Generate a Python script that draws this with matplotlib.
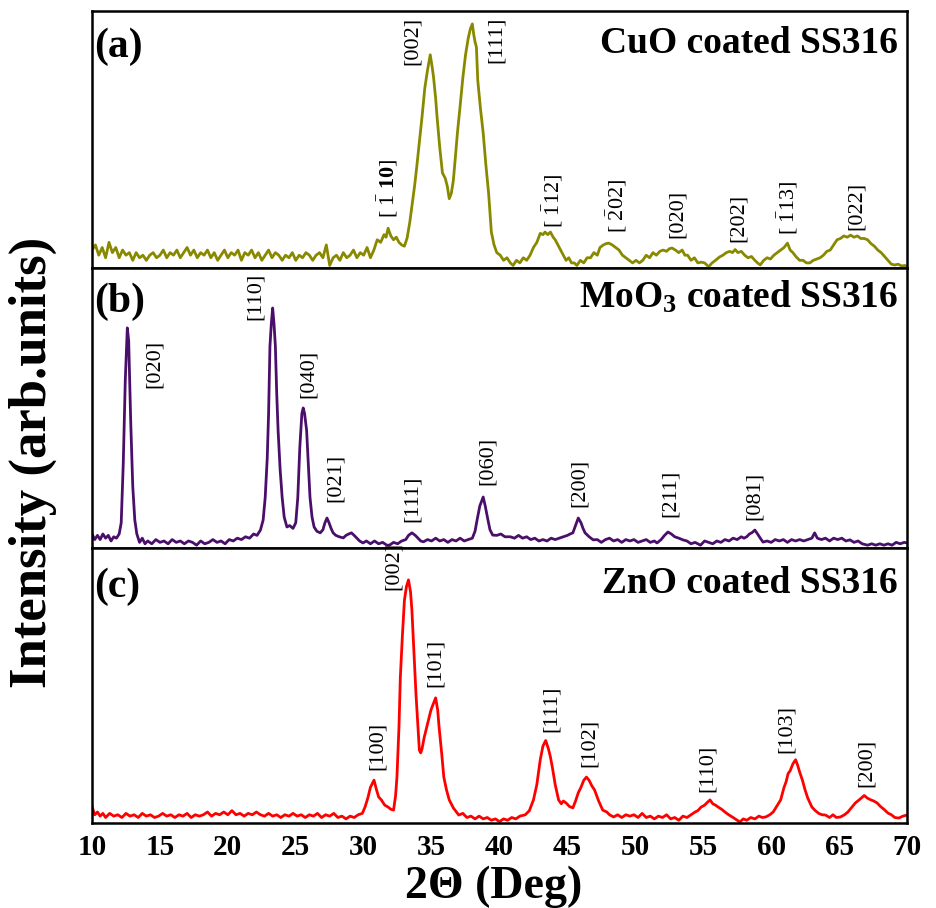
import matplotlib.pyplot as plt

plt.rcParams['font.family'] = ['Liberation Serif', 'DejaVu Serif']
plt.rcParams['mathtext.fontset'] = 'custom'
plt.rcParams['mathtext.rm'] = 'Liberation Serif'
plt.rcParams['mathtext.it'] = 'Liberation Serif:italic'
plt.rcParams['mathtext.bf'] = 'Liberation Serif:bold'

# ---- (a) CuO coated SS316 (arb. units 0-100) ----
cuo_2theta = [
    10.0, 10.25, 10.5, 10.75, 11.0, 11.25, 11.5, 11.75, 12.0, 12.25, 12.5, 12.75,
    13.0, 13.25, 13.5, 13.75, 14.0, 14.25, 14.5, 14.75, 15.0, 15.25, 15.5, 15.75,
    16.0, 16.25, 16.5, 16.75, 17.0, 17.25, 17.5, 17.75, 18.0, 18.25, 18.5, 18.75,
    19.0, 19.25, 19.5, 19.75, 20.0, 20.25, 20.5, 20.75, 21.0, 21.25, 21.5, 21.75,
    22.0, 22.25, 22.5, 22.75, 23.0, 23.25, 23.5, 23.75, 24.0, 24.25, 24.5, 24.75,
    25.0, 25.25, 25.5, 25.75, 26.0, 26.25, 26.5, 26.75, 27.0, 27.25, 27.5, 27.75,
    28.0, 28.25, 28.5, 28.75, 29.0, 29.25, 29.5, 29.75, 30.0, 30.25, 30.5, 30.75,
    31.0, 31.25, 31.5, 31.65, 31.8, 32.0, 32.2, 32.4, 32.6, 32.8, 33.0, 33.2,
    33.4, 33.55, 33.75, 33.9, 34.1, 34.3, 34.5, 34.7, 34.9, 35.05, 35.15, 35.3,
    35.4, 35.6, 35.8, 36.0, 36.15, 36.3, 36.45, 36.6, 36.75, 36.9, 37.1, 37.3,
    37.5, 37.7, 37.85, 38.0, 38.1, 38.2, 38.3, 38.4, 38.6, 38.8, 39.0, 39.2,
    39.4, 39.6, 39.8, 40.05, 40.3, 40.55, 40.8, 41.0, 41.25, 41.5, 41.75, 42.0,
    42.25, 42.5, 42.75, 43.0, 43.2, 43.35, 43.55, 43.75, 43.95, 44.1, 44.3, 44.5,
    44.7, 44.9, 45.1, 45.3, 45.5, 45.7, 45.95, 46.2, 46.45, 46.7, 46.95, 47.2,
    47.4, 47.65, 47.85, 48.05, 48.3, 48.55, 48.8, 49.05, 49.3, 49.55, 49.8, 50.05,
    50.3, 50.55, 50.8, 51.05, 51.3, 51.55, 51.8, 52.05, 52.3, 52.5, 52.7, 52.95,
    53.2, 53.45, 53.65, 53.85, 54.1, 54.35, 54.6, 54.85, 55.1, 55.4, 55.65, 55.9,
    56.2, 56.45, 56.7, 56.95, 57.15, 57.35, 57.55, 57.8, 58.05, 58.3, 58.55, 58.8,
    59.0, 59.2, 59.45, 59.7, 59.95, 60.2, 60.45, 60.7, 60.95, 61.2, 61.4, 61.6,
    61.85, 62.1, 62.35, 62.6, 62.85, 63.1, 63.35, 63.6, 63.85, 64.1, 64.35, 64.6,
    64.85, 65.1, 65.35, 65.6, 65.85, 66.1, 66.35, 66.6, 66.85, 67.1, 67.35, 67.6,
    67.85, 68.1, 68.35, 68.6, 68.85, 69.1, 69.35, 69.6, 69.85, 70.0,
]
cuo_intensity = [
    7, 9, 5, 8, 4, 10, 6, 8, 4, 7, 5, 6,
    3, 6, 4, 5, 3, 5, 6, 4, 5, 7, 4, 6,
    5, 7, 4, 6, 8, 5, 7, 4, 6, 5, 7, 4,
    6, 3, 5, 7, 4, 6, 5, 7, 3, 6, 5, 7,
    4, 6, 3, 5, 7, 4, 6, 5, 3, 5, 4, 6,
    3, 5, 4, 6, 5, 3, 5, 6, 4, 9, 1, 4,
    5, 3, 6, 4, 5, 7, 4, 6, 5, 8, 4, 7,
    11, 10, 13, 12, 15.5, 12.5, 11, 12, 10, 9, 8.5, 11.7,
    18, 24, 32, 39, 49, 59, 70, 77, 83, 78, 74, 66,
    59, 47, 37, 35, 32, 27, 29, 34, 43, 52.5, 63, 74,
    83, 89.5, 93, 95, 91, 88, 86, 73, 62, 52.5, 40, 29,
    14, 9, 6, 5, 3, 4, 2, 1, 3, 2, 4, 3,
    5, 8, 10, 13.5, 13, 14, 13, 14, 12, 11, 9, 7,
    5, 3, 4, 2, 2, 1, 3, 2, 4, 4, 6, 5,
    8, 9, 9.5, 9.7, 9, 8, 7, 5, 4, 3, 2, 3,
    2, 3, 5, 4, 6, 5, 6.5, 7, 6.5, 7.5, 7.8, 7,
    6, 7, 5, 5, 3, 4, 2, 2.3, 2, 0.5, 2, 3,
    4.3, 5, 6, 6.5, 6, 7.2, 6, 6.5, 5, 4, 4.5, 3,
    2, 1.2, 3, 4, 3.5, 5, 6, 7, 8, 9.7, 7, 6,
    4.3, 3, 3, 2, 2, 3, 3.5, 4, 5, 6.5, 7, 9,
    11, 11.5, 12.5, 12, 12.8, 12, 12.5, 11.5, 11.5, 11, 9.5, 8.5,
    7, 6, 4.5, 3, 1.5, 1.2, 1.5, 0.8, 1, 0.5,
]
cuo_hkl = [r'[ $\bar{1}$ $\mathbf{10}$]', '[002]', '[111]', r'[ $\bar{1}$12]',
           r'[ $\bar{2}$02]', '[020]', '[202]', r'[ $\bar{1}$13]', '[022]']
cuo_hkl_2theta = [31.8, 33.6, 39.8, 43.9, 48.65, 53.1, 57.6, 61.25, 66.3]
cuo_hkl_height = [19.5, 79, 79.8, 15.6, 13.6, 11.7, 10, 12.8, 14.8]

# ---- (b) MoO3 coated SS316 ----
moo3_2theta = [
    10.0, 10.2, 10.4, 10.6, 10.8, 11.0, 11.2, 11.4, 11.6, 11.8, 12.0, 12.15,
    12.3, 12.45, 12.6, 12.7, 12.85, 13.0, 13.15, 13.3, 13.5, 13.7, 13.9, 14.1,
    14.4, 14.7, 15.0, 15.3, 15.6, 15.9, 16.2, 16.5, 16.8, 17.1, 17.4, 17.7,
    18.0, 18.3, 18.6, 18.9, 19.2, 19.5, 19.8, 20.1, 20.4, 20.7, 21.0, 21.3,
    21.6, 21.9, 22.15, 22.4, 22.6, 22.75, 22.9, 23.0, 23.1, 23.2, 23.3, 23.4,
    23.5, 23.6, 23.7, 23.85, 24.0, 24.15, 24.35, 24.55, 24.8, 25.0, 25.15, 25.3,
    25.45, 25.55, 25.65, 25.8, 25.95, 26.05, 26.2, 26.35, 26.55, 26.8, 27.0, 27.15,
    27.3, 27.45, 27.6, 27.75, 27.95, 28.2, 28.5, 28.7, 28.9, 29.1, 29.3, 29.5,
    29.7, 29.95, 30.2, 30.5, 30.8, 31.1, 31.4, 31.7, 31.9, 32.2, 32.5, 32.8,
    33.1, 33.3, 33.55, 33.8, 34.0, 34.2, 34.4, 34.7, 35.0, 35.3, 35.6, 35.9,
    36.2, 36.5, 36.8, 37.1, 37.4, 37.7, 38.0, 38.2, 38.35, 38.55, 38.8, 38.95,
    39.15, 39.3, 39.5, 39.8, 40.1, 40.4, 40.8, 41.1, 41.4, 41.7, 42.0, 42.3,
    42.6, 42.9, 43.2, 43.5, 43.8, 44.1, 44.4, 44.7, 45.0, 45.2, 45.4, 45.6,
    45.8, 46.0, 46.15, 46.3, 46.6, 46.9, 47.2, 47.5, 47.8, 48.1, 48.4, 48.7,
    49.0, 49.3, 49.6, 49.9, 50.2, 50.5, 50.8, 51.1, 51.4, 51.6, 51.9, 52.15,
    52.4, 52.65, 52.9, 53.2, 53.5, 53.8, 54.1, 54.4, 54.8, 55.1, 55.4, 55.7,
    56.0, 56.3, 56.6, 56.9, 57.2, 57.5, 57.8, 58.0, 58.2, 58.4, 58.6, 58.8,
    59.0, 59.2, 59.4, 59.7, 60.0, 60.3, 60.6, 60.9, 61.2, 61.5, 61.8, 62.1,
    62.4, 62.7, 63.0, 63.2, 63.4, 63.7, 64.0, 64.3, 64.6, 64.9, 65.2, 65.5,
    65.8, 66.1, 66.4, 66.7, 67.1, 67.4, 67.7, 68.0, 68.3, 68.6, 68.9, 69.2,
    69.5, 69.8, 70.0,
]
moo3_intensity = [
    5, 3, 4.5, 3, 5, 3.5, 4.5, 2.5, 4, 3.5, 5, 9,
    30, 60, 78.6, 74, 45, 22, 10, 5, 2, 3.5, 1.5, 2.5,
    1.5, 3, 2, 2.5, 1.5, 3, 2, 2.5, 1.5, 2.5, 2, 1,
    2.5, 1.5, 2, 3, 2, 2.5, 1.5, 3, 2.5, 3.5, 3, 4,
    3.5, 5, 4.5, 6.4, 10, 18, 32, 48, 72, 80, 85.7, 80,
    72, 55, 42, 28, 18, 11, 7.5, 8, 7, 9, 18, 36,
    48, 50, 48, 42, 28, 18, 11, 7.5, 6, 5.4, 6.5, 9,
    10.7, 9, 7, 5.4, 4.5, 4, 3.6, 4.5, 5, 5.4, 4.5, 3.5,
    2.5, 1.8, 2.5, 1.5, 2.5, 1.5, 2, 1, 1, 2, 1.5, 2.5,
    3, 4.5, 5.4, 4.5, 3.5, 2.5, 2.2, 3, 2.5, 3.5, 2.5, 3,
    2, 3, 2.5, 3.5, 2.5, 3, 3.5, 6, 10, 15, 18.2, 15,
    10, 6.5, 4.6, 4.5, 5, 4, 4, 3.5, 4.5, 3.5, 4, 3,
    3.5, 2.5, 3, 2.5, 3.5, 3, 3.5, 4, 4.5, 5, 5.4, 8,
    10.7, 9, 7, 5.4, 4, 2.9, 3, 2, 3, 3.5, 2.5, 3,
    2, 3, 2.5, 3, 2, 2.5, 3, 2, 2.5, 1.8, 3, 4.5,
    5.7, 5, 4, 3.5, 2.9, 2.5, 1.5, 2, 1, 2.5, 2, 1.5,
    2.5, 2, 3, 2.5, 3.5, 3, 4, 3.5, 4, 5, 5.5, 6.4,
    5, 3.5, 2.1, 2.5, 2, 3, 2.5, 3, 2, 3, 2.5, 3,
    2.5, 3, 3.5, 5.4, 3.5, 3, 3.5, 2.5, 3.5, 3, 3.5, 2.5,
    2.9, 2, 2.5, 1.5, 1, 1.5, 1, 1.5, 1, 1.5, 1, 2,
    1.5, 2, 1.8,
]
moo3_hkl = ['[020]', '[110]', '[040]', '[021]', '[111]', '[060]', '[200]', '[211]', '[081]']
moo3_hkl_2theta = [14.6, 22.0, 25.9, 27.9, 33.6, 39.1, 45.9, 52.55, 58.8]
moo3_hkl_height = [57, 81.4, 53.6, 16.4, 9.3, 22.5, 14.6, 11, 10]

# ---- (c) ZnO coated SS316 ----
zno_2theta = [
    10.0, 10.2, 10.4, 10.6, 10.8, 11.0, 11.3, 11.6, 11.9, 12.2, 12.5, 12.8,
    13.1, 13.4, 13.7, 14.0, 14.3, 14.6, 14.9, 15.2, 15.5, 15.8, 16.1, 16.4,
    16.7, 17.0, 17.3, 17.6, 17.9, 18.2, 18.5, 18.8, 19.1, 19.4, 19.7, 20.0,
    20.3, 20.6, 20.9, 21.2, 21.5, 21.8, 22.1, 22.4, 22.7, 23.0, 23.3, 23.6,
    23.9, 24.2, 24.5, 24.8, 25.1, 25.4, 25.7, 26.0, 26.3, 26.6, 26.9, 27.2,
    27.5, 27.8, 28.1, 28.4, 28.7, 29.0, 29.3, 29.6, 29.9, 30.1, 30.3, 30.5,
    30.76, 30.95, 31.1, 31.3, 31.55, 31.8, 32.0, 32.2, 32.35, 32.45, 32.6, 32.7,
    32.85, 33.0, 33.15, 33.3, 33.45, 33.55, 33.7, 33.85, 34.0, 34.1, 34.2, 34.3,
    34.45, 34.65, 34.8, 34.95, 35.1, 35.3, 35.45, 35.55, 35.75, 35.9, 36.1, 36.3,
    36.6, 37.0, 37.3, 37.6, 37.9, 38.2, 38.5, 38.8, 39.1, 39.4, 39.7, 40.0,
    40.3, 40.6, 40.9, 41.2, 41.5, 41.9, 42.2, 42.5, 42.75, 43.0, 43.2, 43.4,
    43.6, 43.75, 43.9, 44.1, 44.35, 44.55, 44.7, 44.9, 45.15, 45.4, 45.6, 45.8,
    46.0, 46.2, 46.4, 46.6, 46.8, 47.0, 47.3, 47.6, 47.9, 48.1, 48.4, 48.7,
    49.0, 49.3, 49.6, 49.9, 50.2, 50.5, 50.8, 51.1, 51.4, 51.7, 52.0, 52.3,
    52.6, 52.9, 53.2, 53.5, 53.8, 54.1, 54.4, 54.6, 54.85, 55.1, 55.3, 55.5,
    55.7, 55.9, 56.1, 56.35, 56.6, 56.9, 57.2, 57.5, 57.7, 57.95, 58.2, 58.5,
    58.8, 59.1, 59.35, 59.6, 59.9, 60.15, 60.4, 60.7, 60.95, 61.1, 61.25, 61.4,
    61.6, 61.8, 61.95, 62.1, 62.3, 62.5, 62.7, 63.0, 63.25, 63.5, 63.75, 64.0,
    64.3, 64.55, 64.8, 65.1, 65.4, 65.65, 65.9, 66.2, 66.5, 66.85, 67.1, 67.3,
    67.55, 67.8, 68.05, 68.3, 68.6, 68.85, 69.1, 69.4, 69.7, 70.0,
]
zno_intensity = [
    6, 3, 4, 2.5, 3.5, 2, 3.5, 2.5, 3, 2, 3.5, 2.5,
    3, 2, 3.5, 2.5, 3, 2, 2.5, 3.5, 2.5, 3, 2, 3,
    2.5, 3.5, 2, 3, 2.5, 3, 4, 2.5, 3.5, 3, 4, 3,
    4.5, 3, 3.5, 2.5, 3.5, 3, 4, 3, 2.5, 3.5, 2.5, 3,
    2, 3, 2.5, 3.5, 2.5, 3, 2, 3, 2.5, 3.5, 2, 3,
    2.5, 3.5, 2, 2.5, 1.5, 2.5, 2, 3, 3.5, 5.8, 9, 13,
    15.6, 12, 9.5, 8.4, 6.5, 5.8, 5, 4.7, 10, 16.7, 35, 53,
    68, 81, 86, 88.4, 84, 77.5, 62, 47, 35, 26.5, 25.5, 27,
    31, 35, 38, 41, 43, 45.5, 41, 35, 25, 16.7, 12, 8.4,
    5.5, 2.9, 3.5, 2, 2.5, 1.5, 2.5, 1.5, 2, 1, 1.5, 0.5,
    1.5, 1, 2, 1.5, 2.5, 3, 4.5, 8.4, 14, 23, 28, 30,
    27, 24, 20, 14, 8.4, 7, 8, 7.3, 6, 5.5, 8, 11,
    13, 15.5, 16.7, 15.5, 13.5, 12, 8, 4.7, 4, 3, 2.2, 3,
    2, 3, 2.5, 3, 2, 3.5, 2, 2.5, 1.5, 2.5, 2, 3,
    1.5, 2, 1, 2.5, 2, 3, 4, 4.5, 5.8, 6.5, 7.5, 8.4,
    7, 6.5, 5.8, 5, 4, 2.9, 2, 1, 0.4, 1.5, 1, 2,
    1.5, 2.5, 2, 2.2, 3, 4, 6, 8.4, 13, 15, 18, 19,
    21.5, 23, 21, 18.5, 15.6, 12, 9, 5.8, 4.5, 3.5, 3, 2.9,
    2, 3, 2, 2.2, 3, 4, 5.5, 7.3, 8.5, 10, 9, 8.5,
    8, 7.3, 6, 5, 3.6, 3, 2, 1.8, 2.5, 2.9,
]
zno_hkl = ['[100]', '[002]', '[101]', '[111]', '[102]', '[110]', '[103]', '[200]']
zno_hkl_2theta = [31.0, 32.2, 35.3, 43.8, 46.6, 55.3, 61.1, 67.0]
zno_hkl_height = [19.3, 84.7, 49.5, 33, 20.4, 11.3, 25.5, 13]

x_ticks = [10, 15, 20, 25, 30, 35, 40, 45, 50, 55, 60, 65, 70]


def plot_panel(ax, x, y, color, letter, title, title_y, hkl, hkl_x, hkl_y):
    """Draw one XRD pattern with its peak labels."""
    ax.plot(x, y, color=color, lw=2.0)
    ax.set_xlim(10, 70)
    ax.set_ylim(0, 100)
    ax.set_yticks([])
    for s in ax.spines.values():
        s.set_linewidth(1.8)
    for lab, px, py in zip(hkl, hkl_x, hkl_y):
        ax.text(px, py, lab, rotation=90, ha='center', va='bottom',
                fontsize=16, clip_on=False)
    ax.text(0.003, title_y - 0.015, letter, transform=ax.transAxes,
            fontsize=30, fontweight='bold', va='baseline', ha='left')
    ax.text(0.989, title_y, title, transform=ax.transAxes,
            fontsize=27, fontweight='bold', va='baseline', ha='right')


def main():
    fig = plt.figure(figsize=(9.36, 9.08), dpi=100)
    ax_a = fig.add_axes([0.0983, 0.7048, 0.8707, 0.2830])
    ax_b = fig.add_axes([0.0983, 0.3965, 0.8707, 0.3084])
    ax_c = fig.add_axes([0.0983, 0.0936, 0.8707, 0.3029])

    plot_panel(ax_a, cuo_2theta, cuo_intensity, '#898900', '(a)',
               'CuO coated SS316', 0.837, cuo_hkl, cuo_hkl_2theta, cuo_hkl_height)
    plot_panel(ax_b, moo3_2theta, moo3_intensity, '#4a0f6b', '(b)',
               r'MoO$_\mathbf{3}$ coated SS316', 0.857,
               moo3_hkl, moo3_hkl_2theta, moo3_hkl_height)
    plot_panel(ax_c, zno_2theta, zno_intensity, '#ff0000', '(c)',
               'ZnO coated SS316', 0.836, zno_hkl, zno_hkl_2theta, zno_hkl_height)

    for ax in (ax_a, ax_b):
        ax.set_xticks(x_ticks)
        ax.tick_params(axis='x', length=0, labelbottom=False)
    ax_c.set_xticks(x_ticks)
    ax_c.tick_params(axis='x', length=0, pad=8, labelsize=21)
    for lab in ax_c.get_xticklabels():
        lab.set_fontweight('bold')

    fig.text(0.527, 0.023, '2\u0398 (Deg)', ha='center', va='center',
             fontsize=33, fontweight='bold')
    fig.text(0.035, 0.491, 'Intensity (arb.units)', rotation=90,
             ha='center', va='center', fontsize=38, fontweight='bold')

    fig.savefig('out.png', dpi=100)


if __name__ == "__main__":
    main()
